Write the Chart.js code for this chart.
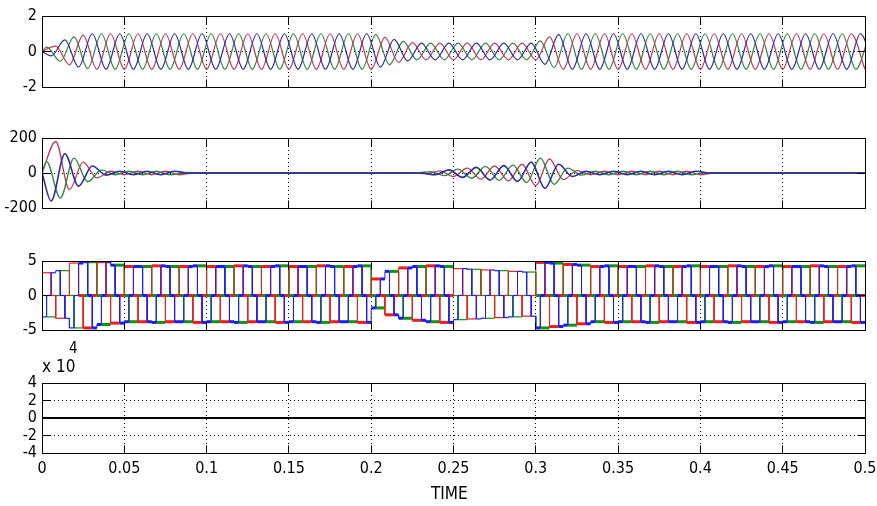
<!DOCTYPE html>
<html><head><meta charset="utf-8">
<script src="https://cdn.jsdelivr.net/npm/chart.js@4/dist/chart.umd.min.js"></script>
<style>
html,body{margin:0;padding:0;background:#fff;width:877px;height:506px;overflow:hidden;position:relative;}
canvas{position:absolute;left:0;}
.lbl{position:absolute;font-family:'Liberation Sans Narrow','DejaVu Sans Condensed','Liberation Sans',Arial,sans-serif;color:#000;white-space:nowrap;line-height:1;}
</style></head><body>
<canvas id="c1" width="877" height="100" style="top:0px"></canvas>
<canvas id="c2" width="877" height="100" style="top:120px"></canvas>
<canvas id="c3" width="877" height="100" style="top:240px"></canvas>
<canvas id="c4" width="877" height="140" style="top:366px"></canvas>
<div class="lbl" style="left:42px;top:358px;font-size:17px">x 10</div>
<div class="lbl" style="left:69px;top:341px;font-size:15px">4</div>
<div class="lbl" style="left:431px;top:485px;font-size:17px">TIME</div>
<script>
// ---------- data ----------
const X_TICKS = [0, 0.05, 0.1, 0.15, 0.2, 0.25, 0.3, 0.35, 0.4, 0.45, 0.5];
const Y1_TICKS = [-2, 0, 2];
const Y2_TICKS = [-200, 0, 200];
const Y3_TICKS = [-5, 0, 5];
const Y4_TICKS = [-4, -2, 0, 2, 4];

// spacing of the listed peaks (one extremum of some phase every 60 deg)
const PEAK_STEP = 1 / 360;

// panel 1: successive signed peak values of each phase
const P1_RED = [
 0, 0.3, -0.75, 0.92, -1, 1, -1, 1, -1, 1,
 -1, 1, -1, 1, -1, 1, -1, 1, -1, 1,
 -1, 1, -1, 1, -1, 0.8, -0.62, 0.5, -0.47, 0.47,
 -0.47, 0.47, -0.47, 0.47, -0.47, 0.47, -0.47, 0.82, -1, 1,
 -1, 1, -1, 1, -1, 1, -1, 1, -1, 1,
 -1, 1, -1, 1, -1, 1, -1, 1, -1, 1,
 -1];
const P1_GREEN = [
 0, 0.25, -0.55, 0.82, -0.96, 1, -1, 1, -1, 1,
 -1, 1, -1, 1, -1, 1, -1, 1, -1, 1,
 -1, 1, -1, 1, -1, 0.95, -0.74, 0.57, -0.47, 0.47,
 -0.47, 0.47, -0.47, 0.47, -0.47, 0.47, -0.47, 0.6, -0.9, 1,
 -1, 1, -1, 1, -1, 1, -1, 1, -1, 1,
 -1, 1, -1, 1, -1, 1, -1, 1, -1, 1,
 -1, 1];
const P1_BLUE = [
 0, -0.25, 0.65, -0.88, 1, -1, 1, -1, 1, -1,
 1, -1, 1, -1, 1, -1, 1, -1, 1, -1,
 1, -1, 1, -1, 1, -0.88, 0.68, -0.53, 0.47, -0.47,
 0.47, -0.47, 0.47, -0.47, 0.47, -0.47, 0.47, -0.72, 0.95, -1,
 1, -1, 1, -1, 1, -1, 1, -1, 1, -1,
 1, -1, 1, -1, 1, -1, 1, -1, 1, -1,
 1, -1];

// panel 2: successive signed peak values of each phase
const P2_RED = [
 0, 180, -95, 62, -28, 10, -10, 10, -10, 10,
 -10, 0, 0, 0, 0, 0, 0, 0, 0, 0,
 0, 0, 0, 0, 0, 0, 0, 0, -5, 12,
 -20, 28, -35, 40, -45, 50, -72, 80, -38, 14,
 -10, 10, -10, 10, -10, 10, -10, 10, -10, 0,
 0, 0, 0, 0, 0, 0, 0, 0, 0, 0,
 0];
const P2_GREEN = [
 0, 65, -143, 85, -50, 18, -10, 10, -10, 10,
 -10, 0, 0, 0, 0, 0, 0, 0, 0, 0,
 0, 0, 0, 0, 0, 0, 0, 0, 0, 8,
 -15, 22, -30, 38, -42, 45, -55, 85, -65, 28,
 -12, 10, -10, 10, -10, 10, -10, 10, -10, 0,
 0, 0, 0, 0, 0, 0, 0, 0, 0, 0,
 0, 0];
const P2_BLUE = [
 0, -160, 110, -75, 40, -12, 10, -10, 10, -10,
 10, 0, 0, 0, 0, 0, 0, 0, 0, 0,
 0, 0, 0, 0, 0, 0, 0, 0, 0, -10,
 18, -25, 32, -40, 42, -48, 62, -88, 50, -20,
 10, -10, 10, -10, 10, -10, 10, -10, 10, 0,
 0, 0, 0, 0, 0, 0, 0, 0, 0, 0,
 0, 0];

// panel 3: upper / lower plateau level per half cycle (1/120 s)
const P3_TOP = [
 3.3, 3.6, 4.7, 4.9, 4.9, 4.4, 4.2, 4.2, 4.3, 4.2,
 4.2, 4.3, 4.2, 4.2, 4.3, 4.2, 4.2, 4.3, 4.2, 4.2,
 4.3, 4.2, 4.2, 4.3, 2.4, 3.5, 4.0, 4.2, 4.3, 4.2,
 3.9, 3.8, 3.7, 3.6, 3.5, 3.4, 4.8, 4.7, 4.5, 4.4,
 4.2, 4.3, 4.2, 4.2, 4.3, 4.2, 4.2, 4.3, 4.2, 4.2,
 4.3, 4.2, 4.2, 4.3, 4.2, 4.2, 4.3, 4.2, 4.2, 4.3];
const P3_BOT = [
 -3.1, -3.3, -4.7, -4.7, -4.2, -4.0, -3.8, -3.8, -3.9, -3.8,
 -3.8, -3.9, -3.8, -3.8, -3.9, -3.8, -3.8, -3.9, -3.8, -3.8,
 -3.9, -3.8, -3.8, -3.9, -1.8, -2.8, -3.3, -3.6, -3.8, -3.9,
 -3.5, -3.4, -3.3, -3.2, -3.1, -3.0, -4.7, -4.5, -4.3, -4.1,
 -3.8, -3.9, -3.8, -3.8, -3.9, -3.8, -3.8, -3.9, -3.8, -3.8,
 -3.9, -3.8, -3.8, -3.9, -3.8, -3.8, -3.9, -3.8, -3.8, -3.9];
// six-step switching states (+ plateau, middle, - plateau) per 60 deg step
const SIX_STEP = [1, 1, 0, -1, -1, 0];
const P3_MID = 0;

// panel 4: flat zero signal
const P4_TIME = [0, 0.5];
const P4_VALUES = [0, 0];

// ---------- styling / layout ----------
const FONT = "'Liberation Sans Narrow','DejaVu Sans Condensed','Liberation Sans',Arial,sans-serif";
const FONT_SIZE = 16;
const C_RED = '#c0385a', C_GREEN = '#2f8540', C_BLUE = '#2c2c9c';
const C3_RED = '#f01c1c', C3_GREEN = '#129212', C3_BLUE = '#1c1cf0';
const PLOT_LEFT = 42, PLOT_RIGHT_GAP = 12;

function peakSeries(values, firstIndex) {
  return values.map((v, j) => ({x: j === 0 ? 0 : (firstIndex + 3 * (j - 1)) * PEAK_STEP, y: v}));
}
function sixStepSeries(offset) {
  const steps = Math.round(0.5 / PEAK_STEP);
  const level = s => {
    const h = Math.min(Math.floor(s / 3), P3_TOP.length - 1);
    const st = SIX_STEP[((s - offset) % 6 + 6) % 6];
    return st > 0 ? P3_TOP[h] : st < 0 ? P3_BOT[h] : P3_MID;
  };
  const pts = [{x: 0, y: level(0)}];
  for (let s = 1; s < steps; s++) {
    const a = level(s - 1), b = level(s);
    if (a !== b) { pts.push({x: s * PEAK_STEP, y: a}); pts.push({x: s * PEAK_STEP, y: b}); }
  }
  pts.push({x: 0.5, y: level(steps - 1)});
  return pts;
}

const align = p => Math.round(p - 0.5) + 0.5;
const TICK_LEN = 8;
const boxPlugin = {
  id: 'matlabBox',
  afterDraw(chart) {
    const {ctx, scales: {x, y}} = chart;
    const L = align(x.getPixelForValue(x.min)), R = align(x.getPixelForValue(x.max));
    const T = align(y.getPixelForValue(y.max)), B = align(y.getPixelForValue(y.min));
    ctx.save();
    ctx.strokeStyle = '#000'; ctx.lineWidth = 1; ctx.setLineDash([]);
    ctx.strokeRect(L, T, R - L, B - T);
    ctx.beginPath();
    x.ticks.forEach(t => {
      const p = align(x.getPixelForValue(t.value));
      ctx.moveTo(p, T); ctx.lineTo(p, T + TICK_LEN);
      ctx.moveTo(p, B); ctx.lineTo(p, B - TICK_LEN);
    });
    y.ticks.forEach(t => {
      const p = align(y.getPixelForValue(t.value));
      ctx.moveTo(L, p); ctx.lineTo(L + TICK_LEN, p);
      ctx.moveTo(R, p); ctx.lineTo(R - TICK_LEN, p);
    });
    ctx.stroke();
    ctx.restore();
  }
};

function panelConfig(datasets, yTicks, showX, xHeight) {
  return {
    type: 'line',
    data: {datasets},
    options: {
      responsive: false, animation: false, devicePixelRatio: 1, events: [],
      layout: {padding: {top: 14, right: PLOT_RIGHT_GAP, bottom: showX ? 0 : 14, left: 0}},
      plugins: {legend: {display: false}, tooltip: {enabled: false}},
      elements: {point: {radius: 0}, line: {borderWidth: 1.2}},
      scales: {
        x: {
          type: 'linear', min: X_TICKS[0], max: X_TICKS[X_TICKS.length - 1],
          afterBuildTicks: s => { s.ticks = X_TICKS.map(v => ({value: v})); },
          ticks: {display: showX, autoSkip: false, maxRotation: 0, padding: 6, color: '#000',
                  font: {family: FONT, size: FONT_SIZE}, callback: v => String(v)},
          grid: {color: '#000', lineWidth: 1, drawTicks: false},
          border: {display: false, dash: [1, 3]},
          afterFit: s => { s.height = xHeight; s.paddingLeft = 0; s.paddingRight = 0; }
        },
        y: {
          type: 'linear', min: yTicks[0], max: yTicks[yTicks.length - 1],
          afterBuildTicks: s => { s.ticks = yTicks.map(v => ({value: v})); },
          ticks: {autoSkip: false, padding: 5, color: '#000',
                  font: {family: FONT, size: FONT_SIZE}, callback: v => String(v)},
          grid: {color: '#000', lineWidth: 1, drawTicks: false},
          border: {display: false, dash: [1, 3]},
          afterFit: s => { s.width = PLOT_LEFT; s.paddingTop = 0; s.paddingBottom = 0; }
        }
      }
    },
    plugins: [boxPlugin]
  };
}

// build a panel so that its plot box spans [top, bottom] on the page
function buildPanel(id, top, bottom, makeCfg) {
  const cv = document.getElementById(id);
  let chart = new Chart(cv, makeCfg());
  const a = chart.chartArea;
  const diff = (a.bottom - a.top) - (bottom - top);
  if (Math.abs(diff) > 0.01) {
    const h = Math.round(cv.height - diff);
    chart.destroy();
    cv.height = h; cv.style.height = h + 'px';
    chart = new Chart(cv, makeCfg());
  }
  cv.style.top = (top - chart.chartArea.top) + 'px';
  return chart;
}

const smooth = (data, color, w) => ({data, borderColor: color, borderWidth: w || 1.2,
  cubicInterpolationMode: 'monotone', pointRadius: 0});

buildPanel('c1', 16, 87, () => panelConfig([
  smooth(peakSeries(P1_BLUE, 2), C_BLUE),
  smooth(peakSeries(P1_RED, 3), C_RED),
  smooth(peakSeries(P1_GREEN, 1), C_GREEN)
], Y1_TICKS, false, 0));

buildPanel('c2', 138, 208, () => panelConfig([
  smooth(peakSeries(P2_BLUE, 2), C_BLUE, 1.6),
  smooth(peakSeries(P2_GREEN, 1), C_GREEN, 1.4),
  smooth(peakSeries(P2_RED, 3), C_RED, 1.3)
], Y2_TICKS, false, 0));

const stepWidth = ctx => {
  const a = ctx.p0.parsed, b = ctx.p1.parsed;
  if (a.x === b.x) return 1;
  return (a.x < 0.02 || (a.x >= 0.25 && a.x < 0.3)) ? 1.2 : 3;
};
const stepped = (data, color) => ({data, borderColor: color, borderWidth: 1, pointRadius: 0,
  tension: 0, segment: {borderWidth: stepWidth}});

buildPanel('c3', 261, 330, () => panelConfig([
  stepped(sixStepSeries(2), C3_BLUE),
  stepped(sixStepSeries(0), C3_RED),
  stepped(sixStepSeries(4), C3_GREEN)
], Y3_TICKS, false, 0));

buildPanel('c4', 383, 453, () => panelConfig([
  {data: P4_TIME.map((t, i) => ({x: t, y: P4_VALUES[i]})), borderColor: '#000', borderWidth: 2, pointRadius: 0}
], Y4_TICKS, true, 40));
</script>
</body></html>
